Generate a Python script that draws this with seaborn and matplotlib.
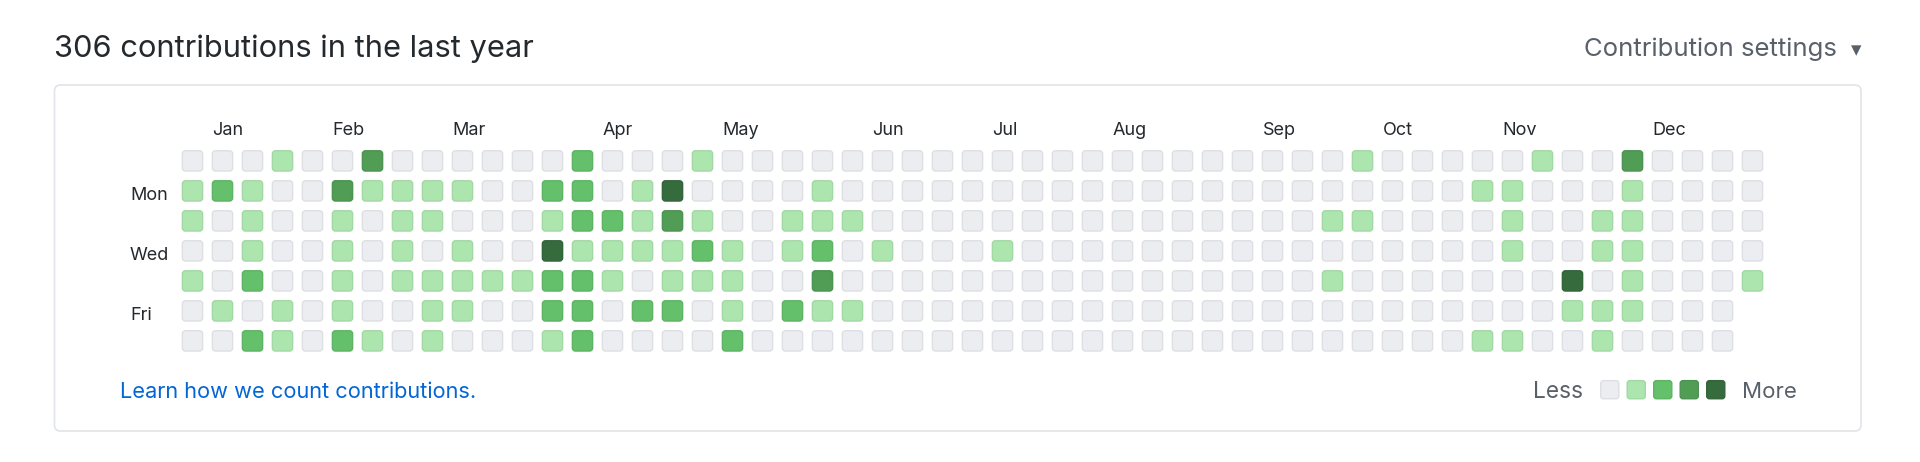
import matplotlib
matplotlib.use('Agg')
import matplotlib.pyplot as plt
import matplotlib.patches as mpatches
from matplotlib.transforms import Affine2D, ScaledTranslation
import pandas as pd
import seaborn as sns

W, H = 1920, 462

# contribution level (0-4) per week column, one list per weekday row
sun = [0, 0, 0, 1, 0, 0, 3, 0, 0, 0, 0, 0,
       0, 2, 0, 0, 0, 1, 0, 0, 0, 0, 0, 0, 0,
       0, 0, 0, 0, 0, 0, 0, 0, 0, 0, 0, 0, 0,
       0, 1, 0, 0, 0, 0, 0, 1, 0, 0, 3, 0, 0, 0, 0]
mon = [1, 2, 1, 0, 0, 3, 1, 1, 1, 1, 0, 0,
       2, 2, 0, 1, 4, 0, 0, 0, 0, 1, 0, 0, 0,
       0, 0, 0, 0, 0, 0, 0, 0, 0, 0, 0, 0, 0,
       0, 0, 0, 0, 0, 1, 1, 0, 0, 0, 1, 0, 0, 0, 0]
tue = [1, 0, 1, 0, 0, 1, 0, 1, 1, 0, 0, 0,
       1, 2, 2, 1, 3, 1, 0, 0, 1, 1, 1, 0, 0,
       0, 0, 0, 0, 0, 0, 0, 0, 0, 0, 0, 0, 0,
       1, 1, 0, 0, 0, 0, 1, 0, 0, 1, 1, 0, 0, 0, 0]
wed = [0, 0, 1, 0, 0, 1, 0, 1, 0, 1, 0, 0,
       4, 1, 1, 1, 1, 2, 1, 0, 1, 2, 0, 1, 0,
       0, 0, 1, 0, 0, 0, 0, 0, 0, 0, 0, 0, 0,
       0, 0, 0, 0, 0, 0, 1, 0, 0, 1, 1, 0, 0, 0, 0]
thu = [1, 0, 2, 0, 0, 1, 0, 1, 1, 1, 1, 1,
       2, 2, 1, 0, 1, 1, 1, 0, 0, 3, 0, 0, 0,
       0, 0, 0, 0, 0, 0, 0, 0, 0, 0, 0, 0, 0,
       1, 0, 0, 0, 0, 0, 0, 0, 4, 0, 1, 0, 0, 0, 1]
fri = [0, 1, 0, 1, 0, 1, 0, 0, 1, 1, 0, 0,
       2, 2, 0, 2, 2, 0, 1, 0, 2, 1, 1, 0, 0,
       0, 0, 0, 0, 0, 0, 0, 0, 0, 0, 0, 0, 0,
       0, 0, 0, 0, 0, 0, 0, 0, 1, 1, 1, 0, 0, 0]
sat = [0, 0, 2, 1, 0, 2, 1, 0, 1, 0, 0, 0,
       1, 2, 0, 0, 0, 0, 2, 0, 0, 0, 0, 0, 0,
       0, 0, 0, 0, 0, 0, 0, 0, 0, 0, 0, 0, 0,
       0, 0, 0, 0, 0, 1, 1, 0, 0, 1, 0, 0, 0, 0]

day_rows = [1, 3, 5]
day_names = ['Mon', 'Wed', 'Fri']
months = ['Jan', 'Feb', 'Mar', 'Apr', 'May', 'Jun',
          'Jul', 'Aug', 'Sep', 'Oct', 'Nov', 'Dec']
month_weeks = [1, 5, 9, 14, 18, 23, 27, 31, 36, 40, 44, 49]
levels = [0, 1, 2, 3, 4]
level_colors = ['#ebedf0', '#ace6ae', '#64c06a', '#519d56', '#366b3e']

title = '306 contributions in the last year'

records = []
for d, row in enumerate([sun, mon, tue, wed, thu, fri, sat]):
    for w, lv in enumerate(row):
        records.append({'week': w, 'day': d, 'level': lv})
df = pd.DataFrame(records)
palette = dict(zip(levels, level_colors))

sns.set_theme(style='white')
plt.rcParams['font.family'] = ['Inter', 'DejaVu Sans']

fig = plt.figure(figsize=(W / 100, H / 100), dpi=100)
px = Affine2D().scale(1 / 100) + fig.dpi_scale_trans


def fx(x):
    return x / W


def fy(y):
    return 1 - y / H


# rounded square marker
cell = mpatches.FancyBboxPatch((-0.5, -0.5), 1, 1,
                               boxstyle='round,pad=0,rounding_size=0.15').get_path()

# outer box
box = mpatches.FancyBboxPatch((54.5, H - 431), 1806.5, 346,
                              boxstyle='round,pad=0,rounding_size=6',
                              transform=px, fc='none', ec='#e1e4e8', lw=1.2)
fig.add_artist(box)

ax = fig.add_axes([fx(177.5), fy(145.9 + 210), 1590 / W, 210 / H])
sns.scatterplot(data=df, x='week', y='day', hue='level', palette=palette,
                marker=cell, s=213, linewidth=1.0, legend=False, ax=ax)
pts = ax.collections[0]
ec = pts.get_facecolors().copy()
ec[:, :3] *= 0.94
pts.set_edgecolors(ec)

ax.set_xlim(-0.5, 52.5)
ax.set_ylim(6.5, -0.5)
sns.despine(ax=ax, left=True, bottom=True)
ax.set_xlabel('')
ax.set_ylabel('')
ax.xaxis.tick_top()
ax.set_xticks([w - 0.33 for w in month_weeks], months, ha='left')
ax.set_yticks(day_rows, day_names, ha='left')
ax.tick_params(axis='x', length=0, pad=4.8, labelsize=13, labelcolor='#24292e')
ax.tick_params(axis='y', length=0, pad=34.2, labelsize=13, labelcolor='#24292e')
shift = ScaledTranslation(0, -2.5 / 100, fig.dpi_scale_trans)
for lab in ax.get_yticklabels():
    lab.set_transform(lab.get_transform() + shift)
ax.grid(False)

# legend swatches
lax = fig.add_axes([fx(1596.5), fy(389.7 + 13.25), 132.5 / W, 26.5 / H])
sns.scatterplot(x=levels, y=[0] * len(levels), hue=levels, palette=palette,
                marker=cell, s=170, linewidth=1.0, legend=False, ax=lax)
lpts = lax.collections[0]
lec = lpts.get_facecolors().copy()
lec[:, :3] *= 0.94
lpts.set_edgecolors(lec)
lax.set_xlim(-0.5, 4.5)
lax.set_ylim(-0.5, 0.5)
lax.axis('off')

fig.text(fx(54), fy(56.7), title, fontsize=22.2, color='#24292e',
         ha='left', va='baseline')
fig.text(fx(1837), fy(56), 'Contribution settings', fontsize=18.5,
         color='#586069', ha='right', va='baseline')
fig.text(fx(1856), fy(50), '\u25be', fontsize=15, color='#586069',
         ha='center', va='center', family=['DejaVu Sans'])
fig.text(fx(120), fy(398.3), 'Learn how we count contributions.', fontsize=15.7,
         color='#0366d6', ha='left', va='baseline')
fig.text(fx(1582.7), fy(398.3), 'Less', fontsize=16.3, color='#586069',
         ha='right', va='baseline')
fig.text(fx(1742), fy(398.3), 'More', fontsize=16, color='#586069',
         ha='left', va='baseline')

fig.savefig('out.png', dpi=100)
